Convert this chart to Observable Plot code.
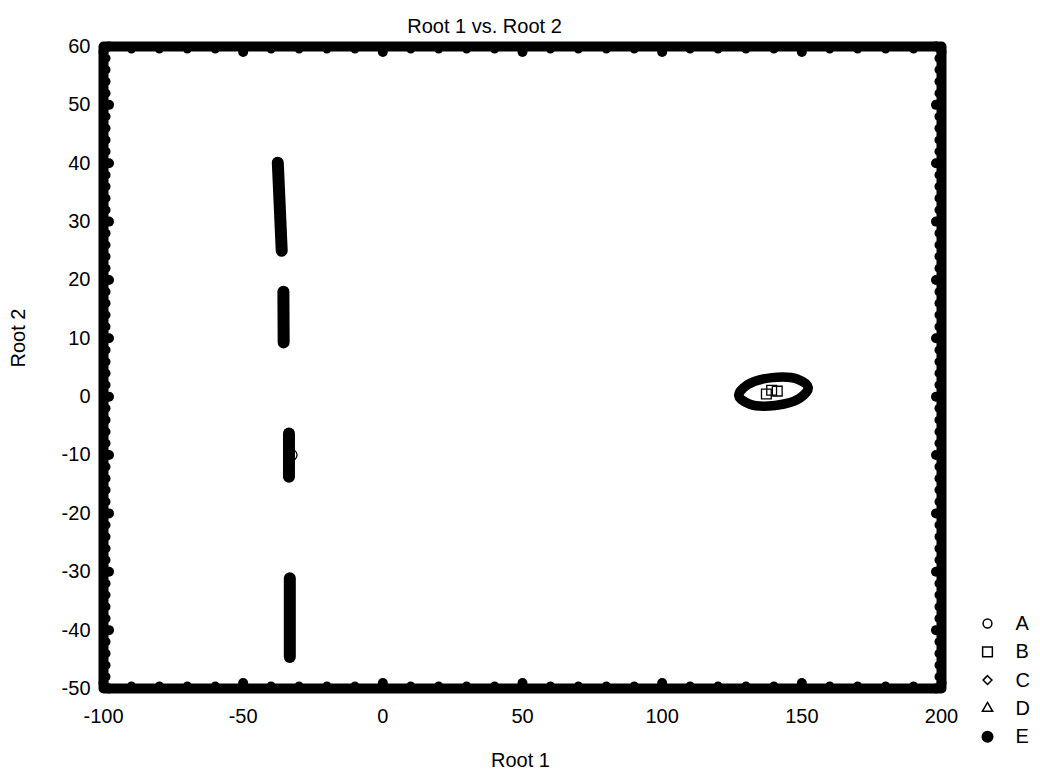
<!DOCTYPE html>
<html><head><meta charset="utf-8">
<script src="https://cdn.jsdelivr.net/npm/d3@7"></script>
<script src="https://cdn.jsdelivr.net/npm/@observablehq/plot@0.6"></script>
<style>body{margin:0;background:#fff}</style>
</head><body><div id="chart"></div>
<script>
// Tick values
const xTicks = [-100, -50, 0, 50, 100, 150, 200];
const yTicks = [60, 50, 40, 30, 20, 10, 0, -10, -20, -30, -40, -50];
const xMinorTicks = [-90, -80, -70, -60, -40, -30, -20, -10, 10, 20, 30, 40, 60, 70, 80, 90, 110, 120, 130, 140, 160, 170, 180, 190];
const yMinorTicks = [58, 56, 54, 52, 48, 46, 44, 42, 38, 36, 34, 32, 28, 26, 24, 22, 18, 16, 14, 12, 8, 6, 4, 2,
  -2, -4, -6, -8, -12, -14, -16, -18, -22, -24, -26, -28, -32, -34, -36, -38, -42, -44, -46, -48];

// Elongated clusters (root scores) along Root 1 ≈ -35
const streakId = [1, 1, 2, 2, 3, 3, 4, 4];
const streakX = [-37.6, -36.2, -35.6, -35.5, -33.6, -33.6, -33.3, -33.3];
const streakY = [40.1, 25.0, 18.0, 9.3, -6.3, -13.7, -31.1, -44.6];

// Ring cluster around Root 1 ≈ 140
const ringX = [152.3, 148.3, 139.3, 130.7, 127.4, 131.4, 140.4, 149.1];
const ringY = [1.57, 3.04, 3.27, 2.08, 0.2, -1.29, -1.5, -0.32];

// Individual open markers
const markerGroup = ["A", "B", "B", "B"];
const markerX = [-32.7, 137.3, 139.2, 141.2];
const markerY = [-10, 0.45, 1.1, 0.95];

// Legend
const legendLabels = ["A", "B", "C", "D", "E"];
const legendSymbols = ["circle", "square", "diamond2", "triangle", "circle"];
const legendFilled = [false, false, false, false, true];
const legendR = [4.4, 5.5, 4, 3.8, 6];

const streaks = streakId.map((id, i) => ({id, x: streakX[i], y: streakY[i]}));
const ring = ringX.map((x, i) => ({x, y: ringY[i]}));
const markers = markerGroup.map((g, i) => ({g, x: markerX[i], y: markerY[i]}));

const legendMarks = legendLabels.flatMap((lab, i) => [
  Plot.dot([lab], {
    frameAnchor: "right", dx: 46, dy: 256 + i * 28.3,
    symbol: () => legendSymbols[i], r: legendR[i],
    fill: legendFilled[i] ? "black" : "none", stroke: "black", strokeWidth: legendFilled[i] ? 0 : 1.5
  }),
  Plot.text([lab], {
    frameAnchor: "right", dx: 74, dy: 256 + i * 28.3,
    text: d => d, textAnchor: "start", fontSize: 20, fill: "black"
  })
]);

const chart = Plot.plot({
  width: 1040,
  height: 778,
  marginLeft: 103,
  marginRight: 99,
  marginTop: 46,
  marginBottom: 90,
  style: {fontFamily: "'Liberation Sans', Arial, sans-serif", fontSize: "20px", background: "white", color: "black"},
  x: {domain: [-100, 200]},
  y: {domain: [-50, 60]},
  symbol: {domain: legendLabels, range: legendSymbols},
  marks: [
    Plot.axisX(xTicks, {tickSize: 0, tickPadding: 20, label: null, fontSize: 20, tickFormat: d => String(d)}),
    Plot.axisY(yTicks, {tickSize: 0, tickPadding: 13, label: null, fontSize: 20, tickFormat: d => String(d)}),
    Plot.frame({stroke: "black", strokeWidth: 10, strokeLinejoin: "round"}),
    // minor tick dots
    Plot.dot(xMinorTicks, {x: d => d, frameAnchor: "bottom", dy: -3, r: 4, fill: "black"}),
    Plot.dot(xMinorTicks, {x: d => d, frameAnchor: "top", dy: 3, r: 4, fill: "black"}),
    Plot.dot(yMinorTicks, {y: d => d, frameAnchor: "left", dx: 3, r: 4, fill: "black"}),
    Plot.dot(yMinorTicks, {y: d => d, frameAnchor: "right", dx: -3, r: 4, fill: "black"}),
    // major tick dots
    Plot.dot(xTicks, {x: d => d, frameAnchor: "bottom", dy: -5.5, r: 5, fill: "black"}),
    Plot.dot(xTicks, {x: d => d, frameAnchor: "top", dy: 5.5, r: 5, fill: "black"}),
    Plot.dot(yTicks, {y: d => d, frameAnchor: "left", dx: 5.5, r: 5, fill: "black"}),
    Plot.dot(yTicks, {y: d => d, frameAnchor: "right", dx: -5.5, r: 5, fill: "black"}),
    // clusters
    Plot.line(streaks, {x: "x", y: "y", z: "id", stroke: "black", strokeWidth: 12, strokeLinecap: "round"}),
    Plot.line(ring, {x: "x", y: "y", curve: "catmull-rom-closed", stroke: "black", strokeWidth: 9.5}),
    Plot.dot(markers, {x: "x", y: "y", symbol: "g", r: 5.5, fill: "none", stroke: "black", strokeWidth: 1.3}),
    // titles
    Plot.text(["Root 1 vs. Root 2"], {frameAnchor: "top", dx: -38, dy: -28, text: d => d, fontSize: 20, fill: "black"}),
    Plot.text(["Root 1"], {frameAnchor: "bottom", dx: -2, dy: 78, text: d => d, fontSize: 20, fill: "black"}),
    Plot.text(["Root 2"], {frameAnchor: "left", dx: -85, rotate: -90, text: d => d, fontSize: 20, fill: "black"}),
    ...legendMarks
  ]
});
document.getElementById("chart").appendChild(chart);
</script>
</body></html>
